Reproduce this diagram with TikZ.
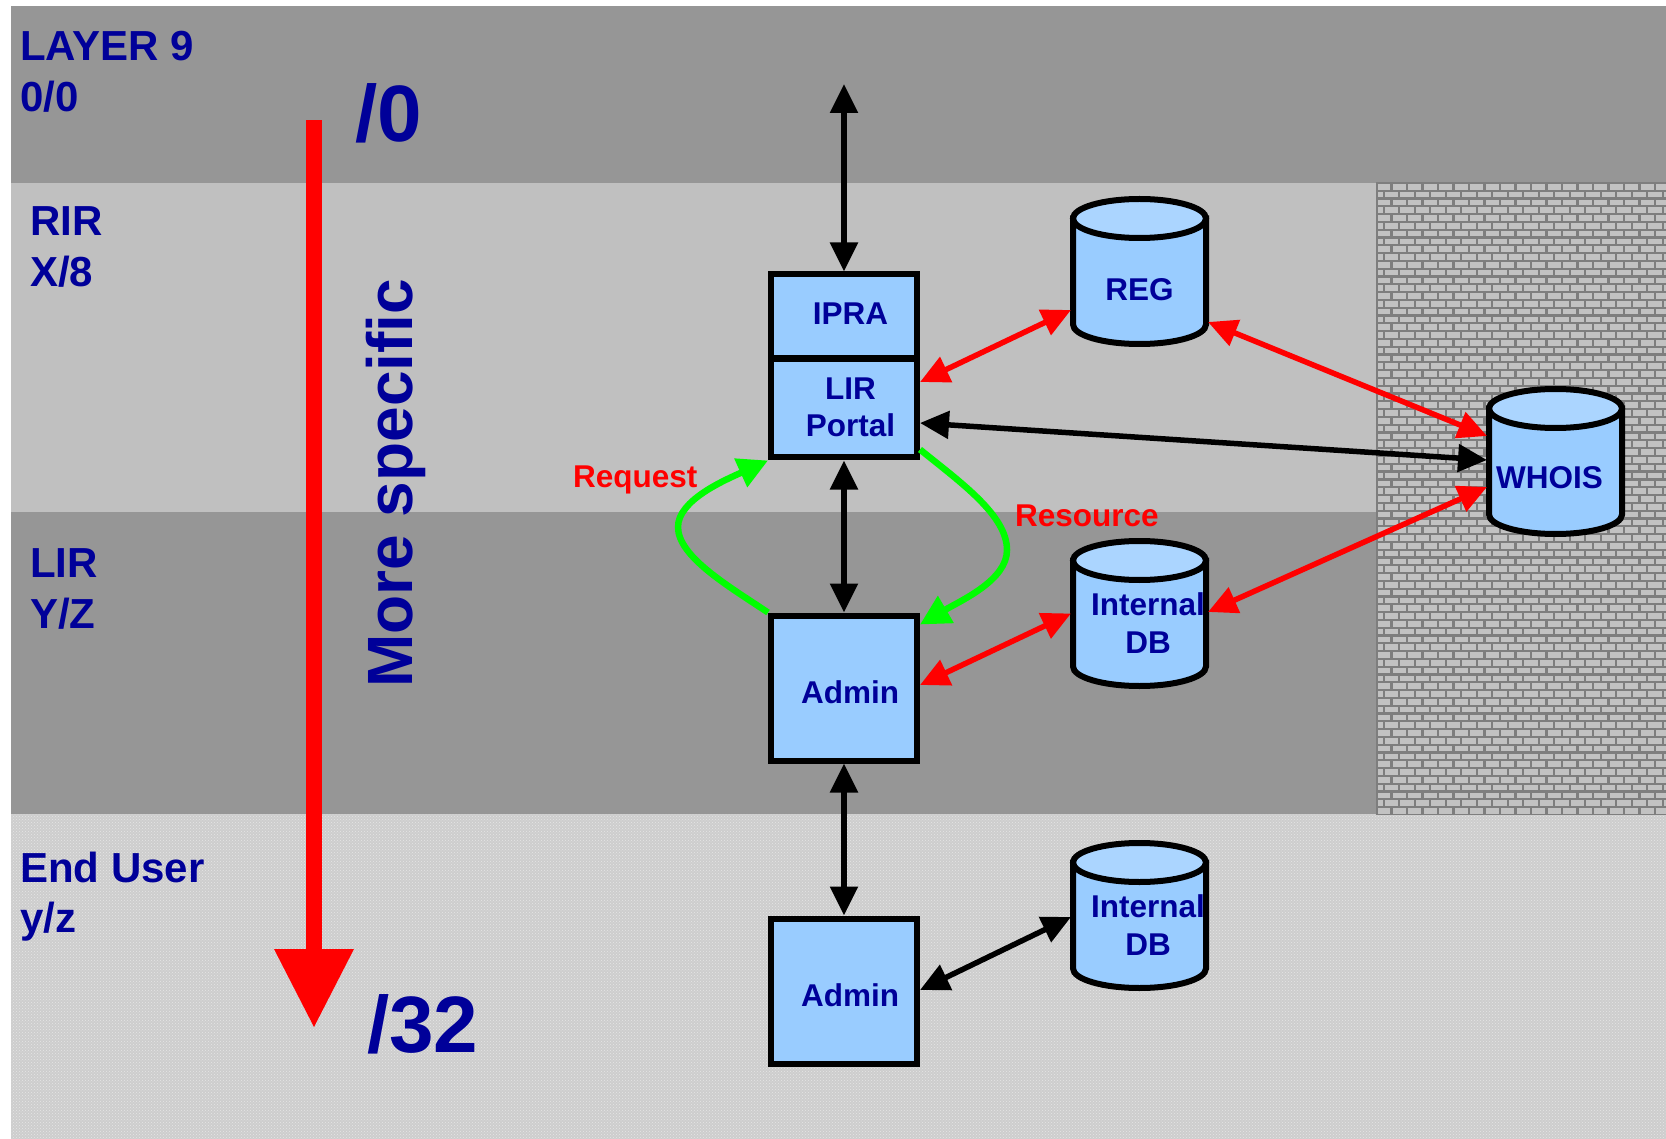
\documentclass[tikz,border=0pt]{standalone}
\usepackage{fontspec}
\setmainfont{Liberation Sans}
\usetikzlibrary{arrows.meta,patterns,calc}

\definecolor{navy}{HTML}{000099}
\definecolor{boxblue}{HTML}{99CCFF}
\definecolor{drumtop}{HTML}{ABD5FF}
\definecolor{banddark}{HTML}{969696}
\definecolor{bandlight}{HTML}{C0C0C0}
\definecolor{userfill}{HTML}{CDCDCD}
\definecolor{userdots}{HTML}{E6E6E6}
\definecolor{brickface}{HTML}{C2C2C2}
\definecolor{mortar}{HTML}{7E7E7E}
\definecolor{flowgreen}{HTML}{00FF00}

% database drum centred at (#1,#2): 133 x 145 between line centres
\newcommand\drum[2]{%
  \filldraw[drumline, fill=boxblue]
    ({#1-66.5},{#2-53}) -- ({#1-66.5},{#2+53})
    .. controls ({#1-66.5},{#2+63.77}) and ({#1-36.73},{#2+72.5}) .. ({#1},{#2+72.5})
    .. controls ({#1+36.73},{#2+72.5}) and ({#1+66.5},{#2+63.77}) .. ({#1+66.5},{#2+53})
    -- ({#1+66.5},{#2-53}) -- cycle;
  \filldraw[drumline, fill=drumtop] (#1,{#2-53}) ellipse [x radius=66.5pt, y radius=19.5pt];
}

\tikzset{
  >={Triangle[length=29pt,width=27pt]},
  layerlabel/.style={anchor=base west, inner sep=0pt, text=navy,
    font=\fontsize{42}{51}\selectfont\bfseries},
  bigprefix/.style={anchor=base west, inner sep=0pt, text=navy,
    font=\fontsize{80}{90}\selectfont\bfseries},
  flowlabel/.style={anchor=base west, inner sep=0pt, text=red,
    font=\fontsize{31.5}{38}\selectfont\bfseries},
  inlabel/.style={inner sep=0pt, text=navy, align=center,
    font=\fontsize{31.5}{37.5}\selectfont\bfseries},
  sysbox/.style={draw=black, line width=6pt, fill=boxblue,
    minimum width=146pt, inner sep=0pt},
  drumline/.style={draw=black, line width=6pt},
  drumnode/.style={minimum width=137pt, minimum height=149pt,
    inner sep=0pt, outer sep=0pt},
  link/.style={line width=5.5pt, <->},
  flow/.style={draw=flowgreen, line width=6.5pt, -{Triangle[length=30pt,width=30pt]}},
}

\begin{document}
\begin{tikzpicture}[x=1pt,y=-1pt]
\useasboundingbox (0,0) rectangle (1666,1139);
\fill[white] (0,0) rectangle (1666,1139);

% address space layers
\fill[banddark]  (11,6)   rectangle (1666,183);
\fill[bandlight] (11,183) rectangle (1666,512);
\fill[banddark]  (11,512) rectangle (1666,814);
\fill[userfill]  (11,814) rectangle (1666,1139);
\fill[pattern=crosshatch dots, pattern color=userdots] (11,814) rectangle (1666,1139);

% brick wall behind the public database
\begin{scope}
  \clip (1376,183) rectangle (1666,814);
  \fill[brickface] (1376,183) rectangle (1666,814);
  \foreach \r in {0,...,81} {
    \pgfmathsetmacro\yy{183+\r*7.8}
    \pgfmathsetmacro\off{mod(\r,2)*7.75}
    \draw[mortar, line width=2.2pt] (1376,\yy) -- (1666,\yy);
    \draw[mortar, line width=2.2pt]
      \foreach \c in {0,...,19} { ({1376+\off+\c*15.5},\yy) -- ({1376+\off+\c*15.5},{\yy+7.8}) };
  }
  \draw[mortar, line width=2pt] (1377,183) -- (1377,814);
\end{scope}

% layer names and prefixes
\node[layerlabel] (l9name)  at (20,61)  {LAYER 9};
\node[layerlabel] (l9pfx)   at (20,112) {0/0};
\node[layerlabel] (rirname) at (30,236) {RIR};
\node[layerlabel] (rirpfx)  at (30,287) {X/8};
\node[layerlabel] (lirname) at (30,577) {LIR};
\node[layerlabel] (lirpfx)  at (30,628) {Y/Z};
\node[layerlabel] (euname)  at (20,882) {End User};
\node[layerlabel] (eupfx)   at (20,932) {y/z};

% specificity axis
\fill[red] (306,120) rectangle (322,950);
\fill[red] (274,949) -- (354,949) -- (314,1027) -- cycle;
\node[bigprefix] (pfxtop) at (355,142) {/0};
\node[bigprefix] (pfxbottom) at (367,1052) {/32};
\node[rotate=90, anchor=base west, inner sep=0pt, text=navy,
      font=\fontsize{64}{70}\selectfont\bfseries] (specific) at (412,688) {More specific};

% systems
\node[sysbox, minimum height=84pt,
      label={[inlabel, name=ipratext, xshift=6.5pt, yshift=3pt]center:IPRA}] (ipra) at (844,316.5) {};
\node[sysbox, minimum height=98pt,
      label={[inlabel, name=portaltext, xshift=6.5pt, yshift=1pt]center:LIR\\Portal}] (portal) at (844,408.5) {};
\node[sysbox, minimum height=145pt,
      label={[inlabel, name=admintext, xshift=6pt, yshift=-4.5pt]center:Admin}] (admin1) at (844,688) {};
\node[sysbox, minimum height=145pt,
      label={[inlabel, name=enduseradmintext, xshift=6pt, yshift=-4.5pt]center:Admin}] (admin2) at (844,991) {};

% databases
\drum{1139.5}{271.5}
\drum{1139.5}{613.5}
\drum{1139.5}{915.5}
\drum{1555.5}{461.5}
\node[drumnode, label={[inlabel, name=regtext, yshift=-18pt]center:REG}] (reg) at (1139.5,271.5) {};
\node[drumnode, label={[inlabel, name=idbtext, xshift=8.5pt, yshift=-9.5pt]center:Internal\\DB}] (idb1) at (1139.5,613.5) {};
\node[drumnode, label={[inlabel, name=euidbtext, xshift=8.5pt, yshift=-9.5pt]center:Internal\\DB}] (idb2) at (1139.5,915.5) {};
\node[drumnode, label={[inlabel, name=whoistext, xshift=-6pt, yshift=-16.5pt]center:WHOIS}] (whois) at (1555.5,461.5) {};

% vertical chain
\coordinate (upper) at (844,84);
\draw[link] (upper) -- (ipra.north);
\draw[link] (portal.south) -- (admin1.north);
\draw[link] (admin1.south) -- (admin2.north);

% database links
\draw[link, red] ([yshift=26.5pt]portal.east) -- ([yshift=-38.5pt]reg.west);
\draw[link, red] ([yshift=-50.5pt]reg.east) -- ([yshift=25.5pt]whois.west);
\draw[link] ([yshift=-14.5pt]portal.east) -- ([yshift=1.5pt]whois.west);
\draw[link, red] ([yshift=-25.5pt]whois.west) -- ([yshift=1.5pt]idb1.east);
\draw[link, red] ([yshift=3pt]admin1.east) -- (idb1.west);
\draw[link] ([yshift=1pt]admin2.east) -- ([yshift=-1.5pt]idb2.west);

% request / resource loop
\draw[flow] (admin1.north west) .. controls (730,587) and (678,557) .. (678,527)
  .. controls (678,500) and (725,480) .. (portal.south west);
\draw[flow] ([yshift=11pt]portal.south east) .. controls (960,482) and (1007,515) .. (1007,550)
  .. controls (1007,580) and (962,600) .. ([yshift=-12pt]admin1.north east);
\node[flowlabel] (reqlabel) at (573,488) {Request};
\node[flowlabel] (reslabel) at (1015,526) {Resource};
\end{tikzpicture}
\end{document}
